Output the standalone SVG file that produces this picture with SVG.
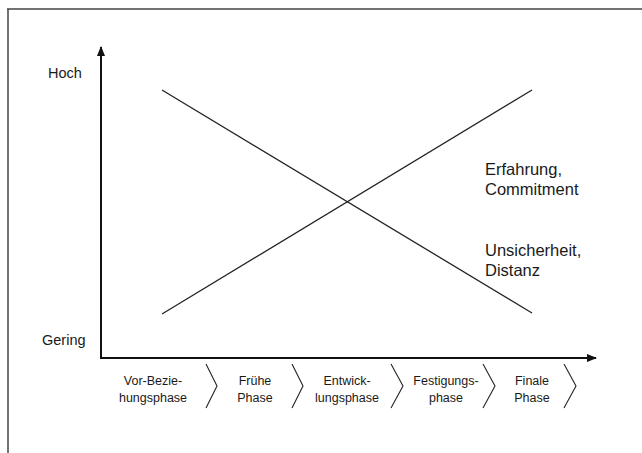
<svg xmlns="http://www.w3.org/2000/svg" width="642" height="453" viewBox="0 0 642 453">
<style>
text{font-family:"Liberation Sans",Arial,sans-serif;fill:#1a1a1a}
.ax{font-size:14.5px}
.lb{font-size:16.5px}
.ph{font-size:12.5px;text-anchor:middle}
.ln{stroke:#222;stroke-width:1.3;fill:none}
.ch{stroke:#222;stroke-width:1.1;fill:none}
</style>
<defs>
<marker id="ah" markerWidth="10" markerHeight="8" refX="9" refY="4" orient="auto" markerUnits="userSpaceOnUse">
<path d="M0,0 L10,4 L0,8 Z" fill="#111"/>
</marker>
</defs>
<g id="frame">
<line x1="7" y1="9" x2="642" y2="9" stroke="#444" stroke-width="1.5"/>
<line x1="8" y1="9" x2="8" y2="453" stroke="#444" stroke-width="1.5"/>
</g>
<g id="axes">
<line x1="101" y1="358" x2="101" y2="47" stroke="#111" stroke-width="2" marker-end="url(#ah)"/>
<line x1="100" y1="358" x2="596" y2="358" stroke="#111" stroke-width="2" marker-end="url(#ah)"/>
<text class="ax" x="48" y="78">Hoch</text>
<text class="ax" x="42" y="345">Gering</text>
</g>
<g id="connectors">
<line class="ln" x1="162" y1="90" x2="532" y2="313"/>
<line class="ln" x1="162" y1="314" x2="532" y2="90"/>
</g>
<g id="erfahrung">
<text class="lb" x="485" y="175">Erfahrung,</text>
<text class="lb" x="485" y="195">Commitment</text>
</g>
<g id="unsicherheit">
<text class="lb" x="485" y="256">Unsicherheit,</text>
<text class="lb" x="485" y="276">Distanz</text>
</g>
<g id="phase1">
<text class="ph" x="153" y="385">Vor-Bezie-</text>
<text class="ph" x="153" y="402">hungsphase</text>
<polyline class="ch" points="206,364 217,386 206,408"/>
</g>
<g id="phase2">
<text class="ph" x="255" y="385">Frühe</text>
<text class="ph" x="255" y="402">Phase</text>
<polyline class="ch" points="292,364 303,386 292,408"/>
</g>
<g id="phase3">
<text class="ph" x="347" y="385">Entwick-</text>
<text class="ph" x="347" y="402">lungsphase</text>
<polyline class="ch" points="391,364 403,386 391,408"/>
</g>
<g id="phase4">
<text class="ph" x="446" y="385">Festigungs-</text>
<text class="ph" x="446" y="402">phase</text>
<polyline class="ch" points="483,364 495,386 483,408"/>
</g>
<g id="phase5">
<text class="ph" x="532" y="385">Finale</text>
<text class="ph" x="532" y="402">Phase</text>
<polyline class="ch" points="564,364 576,386 564,408"/>
</g>
</svg>
